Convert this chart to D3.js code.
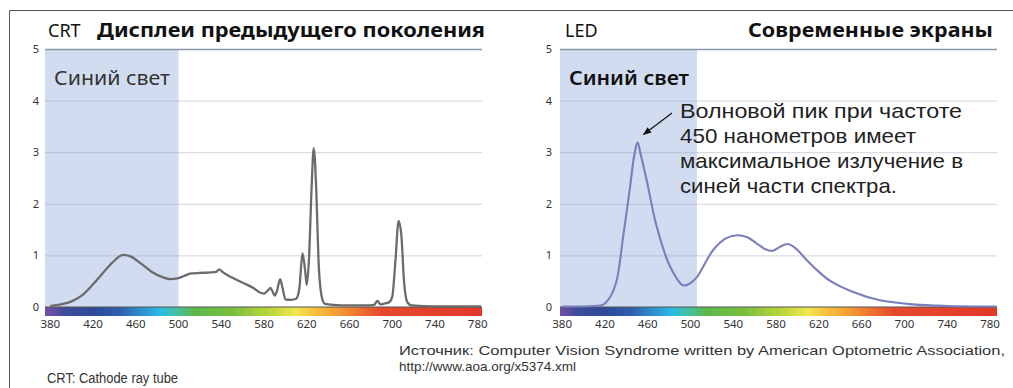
<!DOCTYPE html>
<html>
<head>
<meta charset="utf-8">
<script src="https://cdn.jsdelivr.net/npm/d3@7"></script>
<style>
  html, body { margin: 0; padding: 0; background: #fff; }
  svg { display: block; }
  text { font-family: "Noto Sans", "Open Sans", sans-serif; fill: #222; }
  text.tight { font-family: "Liberation Sans", "Noto Sans", sans-serif; }
</style>
</head>
<body>
<svg id="chart" width="1013" height="388"></svg>
<script>
// Wavelength axis (nm) and intensity axis
const wavelengthTicks = [380, 420, 460, 500, 540, 580, 620, 660, 700, 740, 780];
const intensityTicks = [0, 1, 2, 3, 4, 5];

// CRT emission spectrum
const crtWavelengths = [380, 390, 400, 410, 420, 430, 440, 448, 455, 465, 475, 485, 492, 500, 505, 512, 520, 530, 535, 538, 541, 550, 560, 570, 576, 580, 584, 586, 588, 590, 592, 595, 597, 600, 605, 610, 613, 616, 618.5, 620, 622, 624.5, 626.5, 629, 631, 634, 637, 645, 660, 675, 683, 686, 689, 693, 697, 700, 703, 706, 708.5, 711, 714, 718, 740, 783];
const crtValues = [0.02, 0.05, 0.11, 0.23, 0.44, 0.68, 0.9, 1.01, 0.98, 0.84, 0.68, 0.58, 0.54, 0.56, 0.6, 0.65, 0.66, 0.67, 0.68, 0.73, 0.68, 0.57, 0.47, 0.37, 0.28, 0.26, 0.33, 0.37, 0.3, 0.22, 0.3, 0.54, 0.4, 0.15, 0.14, 0.16, 0.35, 1.04, 0.7, 0.43, 0.9, 2.3, 3.08, 2.2, 0.9, 0.2, 0.06, 0.04, 0.03, 0.03, 0.04, 0.12, 0.05, 0.07, 0.09, 0.2, 0.9, 1.67, 1.4, 0.5, 0.1, 0.03, 0.01, 0.01];

// LED emission spectrum
const ledWavelengths = [380, 400, 410, 418, 425, 431, 437, 443.5, 447.5, 450.5, 453.5, 459, 468.5, 481, 493, 499, 506, 521, 533, 544, 553, 562, 570, 577, 584, 591, 598, 609, 620, 631, 652, 677, 708, 740, 786];
const ledValues = [0.01, 0.01, 0.02, 0.04, 0.2, 0.52, 1.36, 2.33, 2.95, 3.19, 2.95, 2.46, 1.55, 0.78, 0.42, 0.45, 0.58, 1.1, 1.33, 1.39, 1.35, 1.23, 1.12, 1.09, 1.17, 1.22, 1.14, 0.9, 0.68, 0.5, 0.29, 0.13, 0.05, 0.02, 0.01];

// Visible-spectrum colour strip (wavelength, colour)
const spectrumNm = [380, 395, 420, 445, 465, 482, 495, 515, 550, 585, 610, 625, 645, 665, 690, 780];
const spectrumColors = ["#6d4f9f", "#3d4c9c", "#2d4b98", "#2e5fae", "#2f8fd0", "#2ab8e6", "#3ec0b0", "#5db84a", "#79bf3f", "#bcd53c", "#f2e54c", "#f5c640", "#f3a236", "#ef7a30", "#e6482e", "#e23a2a"];

// Annotation text and its line widths
const noteLines = ["Волновой пик при частоте", "450 нанометров имеет", "максимальное излучение в", "синей части спектра."];
const noteWidths = [282, 236, 283, 217];

const svg = d3.select("#chart");
const defs = svg.append("defs");

// stretch or squeeze a text run to a given width
function fitWidth(sel, w) {
  sel.attr("textLength", w).attr("lengthAdjust", "spacingAndGlyphs");
  return sel;
}

// outer frame (top and left edges)
svg.append("path")
  .attr("d", "M9.5,388 V10.5 H1013")
  .attr("fill", "none").attr("stroke", "#555").attr("stroke-width", 1);

const y = d3.scaleLinear().domain([0, 5]).range([307, 49]);

const panels = [
  { id: "crt", domain: [375, 784], range: [45, 482], blueEnd: 500,
    wl: crtWavelengths, val: crtValues, stroke: "#6b6b6b", width: 2.3,
    curve: d3.curveMonotoneX,
    tag: "CRT", tagX: 48, title: "Дисплеи предыдущего поколения", titleX: 97, titleW: 388,
    blueLabelWeight: "normal", blueLabelColor: "#333", blueLabelW: 116, yLabelX: 36 },
  { id: "led", domain: [378, 786.5], range: [560, 997], blueEnd: 506,
    wl: ledWavelengths, val: ledValues, stroke: "#7a7ebd", width: 2.1,
    curve: d3.curveCatmullRom.alpha(0.5),
    tag: "LED", tagX: 565, title: "Современные экраны", titleX: 748, titleW: 245,
    blueLabelWeight: "600", blueLabelColor: "#111", blueLabelW: 120, yLabelX: 549 }
];

panels.forEach(p => {
  const x = d3.scaleLinear().domain(p.domain).range(p.range);
  const g = svg.append("g");
  const [x0, x1] = p.range;

  // blue-light band
  g.append("rect")
    .attr("x", x0).attr("y", y(5))
    .attr("width", x(p.blueEnd) - x0).attr("height", y(0) - y(5))
    .attr("fill", "#d2dcf1");

  // horizontal grid
  g.selectAll("line.grid").data(intensityTicks.filter(d => d > 0 && d < 5)).join("line")
    .attr("x1", x0).attr("x2", x1)
    .attr("y1", d => y(d) + 0.5).attr("y2", d => y(d) + 0.5)
    .attr("stroke", "#9aa0aa").attr("stroke-opacity", 0.45).attr("stroke-width", 1);

  // top edge of plot
  g.append("line")
    .attr("x1", x0).attr("x2", x1).attr("y1", y(5) + 0.5).attr("y2", y(5) + 0.5)
    .attr("stroke", "#8d96a6").attr("stroke-width", 1.5);

  // intensity labels
  g.selectAll("text.ytick").data(intensityTicks).join("text")
    .attr("x", p.yLabelX).attr("y", d => y(d) + 4)
    .attr("text-anchor", "middle")
    .attr("font-size", 11).style("fill", "#333")
    .text(d => d);

  // spectrum strip
  const gid = "spec-" + p.id;
  const grad = defs.append("linearGradient").attr("id", gid)
    .attr("gradientUnits", "userSpaceOnUse")
    .attr("x1", x(380)).attr("x2", x(780)).attr("y1", 0).attr("y2", 0);
  grad.selectAll("stop").data(spectrumNm).join("stop")
    .attr("offset", d => (d - 380) / 400)
    .attr("stop-color", (d, i) => spectrumColors[i]);
  g.append("rect")
    .attr("x", x0).attr("y", y(0))
    .attr("width", x1 - x0).attr("height", 9)
    .attr("fill", `url(#${gid})`);
  g.append("line")
    .attr("x1", x0).attr("x2", x1).attr("y1", y(0)).attr("y2", y(0))
    .attr("stroke", "#555").attr("stroke-width", 1);

  // wavelength labels
  g.selectAll("text.xtick").data(wavelengthTicks).join("text")
    .attr("x", d => x(d)).attr("y", 328)
    .attr("text-anchor", "middle")
    .attr("font-size", 11.5).style("fill", "#333")
    .text(d => d);

  // spectrum curve
  const pts = p.wl.map((w, i) => [w, p.val[i]]);
  g.append("path")
    .datum(pts)
    .attr("fill", "none")
    .attr("stroke", p.stroke).attr("stroke-width", p.width)
    .attr("stroke-linejoin", "round")
    .attr("d", d3.line().x(d => x(d[0])).y(d => y(d[1])).curve(p.curve));

  // headings
  g.append("text").attr("x", p.tagX).attr("y", 37)
    .attr("font-size", 18).style("fill", "#111").text(p.tag);
  fitWidth(g.append("text").attr("x", p.titleX).attr("y", 37)
    .attr("font-size", 20).attr("font-weight", "bold").style("fill", "#111")
    .text(p.title), p.titleW);

  // band label
  fitWidth(g.append("text").attr("x", x0 + 9).attr("y", 85)
    .attr("font-size", 20.5).attr("font-weight", p.blueLabelWeight)
    .style("fill", p.blueLabelColor)
    .text("Синий свет"), p.blueLabelW);

  p.xScale = x;
});

// annotation on the LED blue peak
const led = panels[1];
const peakIdx = ledValues.indexOf(d3.max(ledValues));
const peakX = led.xScale(ledWavelengths[peakIdx]);
const peakY = y(ledValues[peakIdx]);

defs.append("marker").attr("id", "arrow")
  .attr("viewBox", "0 0 10 10").attr("refX", 9).attr("refY", 5)
  .attr("markerWidth", 7).attr("markerHeight", 7)
  .attr("orient", "auto-start-reverse")
  .append("path").attr("d", "M0,1 L10,5 L0,9 Z").attr("fill", "#111");

svg.append("line")
  .attr("x1", 672).attr("y1", 113)
  .attr("x2", peakX + 6).attr("y2", peakY - 8)
  .attr("stroke", "#111").attr("stroke-width", 1.2)
  .attr("marker-end", "url(#arrow)");

svg.append("g").selectAll("text").data(noteLines).join("text")
  .attr("class", "tight")
  .attr("x", 680).attr("y", (d, i) => 118 + i * 25)
  .attr("font-size", 21).style("fill", "#222")
  .attr("textLength", (d, i) => noteWidths[i])
  .attr("lengthAdjust", "spacingAndGlyphs")
  .text(d => d);

// footer
fitWidth(svg.append("text").attr("class", "tight").attr("x", 399).attr("y", 355)
  .attr("font-size", 13.5).style("fill", "#333")
  .text("Источник: Computer Vision Syndrome written by American Optometric Association,"), 606);
svg.append("text").attr("class", "tight").attr("x", 399).attr("y", 371)
  .attr("font-size", 13.5).style("fill", "#333")
  .text("http://www.aoa.org/x5374.xml");
fitWidth(svg.append("text").attr("class", "tight").attr("x", 47).attr("y", 383)
  .attr("font-size", 14).style("fill", "#333")
  .text("CRT: Cathode ray tube"), 131);
</script>
</body>
</html>
